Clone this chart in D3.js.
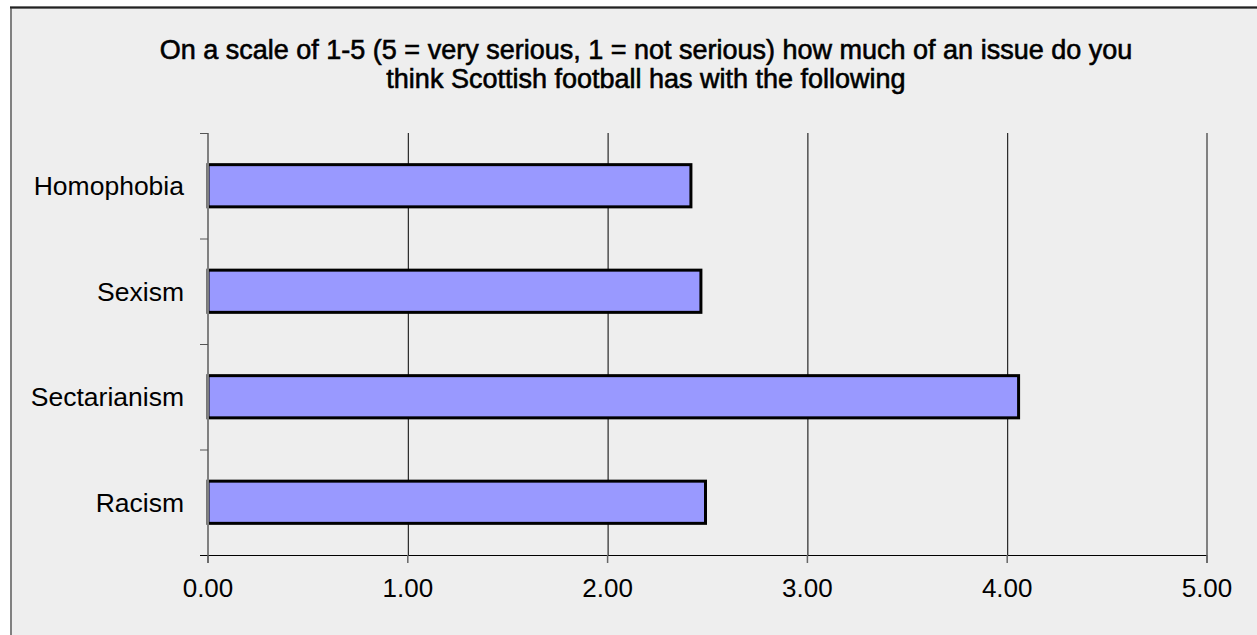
<!DOCTYPE html>
<html>
<head>
<meta charset="utf-8">
<script src="https://cdn.jsdelivr.net/npm/d3@7"></script>
<style>
  html, body { margin: 0; padding: 0; background: #ffffff; }
  svg { display: block; }
  text { font-family: "Liberation Sans", Arial, sans-serif; fill: #000; }
</style>
</head>
<body>
<svg id="chart" width="1257" height="635"></svg>
<script>
// Survey categories, top to bottom
const categories = ["Homophobia", "Sexism", "Sectarianism", "Racism"];
// Mean rating for each category (1-5 scale)
const values = [2.417, 2.467, 4.057, 2.49];
// Value-axis ticks
const tickValues = [0, 1, 2, 3, 4, 5];
const titleLines = [
  "On a scale of 1-5 (5 = very serious, 1 = not serious) how much of an issue do you",
  "think Scottish football has with the following"
];

const svg = d3.select("#chart");
const W = 1257, H = 635;

// Chart area panel
svg.append("rect")
  .attr("x", 11).attr("y", 7.5)
  .attr("width", W + 20).attr("height", H + 20)
  .attr("fill", "#eeeeee")
  .attr("stroke", "#808080").attr("stroke-width", 2);
svg.append("line")
  .attr("x1", 10).attr("x2", W).attr("y1", 7.5).attr("y2", 7.5)
  .attr("stroke", "#222").attr("stroke-width", 2);

const plot = { left: 208, right: 1207, top: 133, bottom: 555 };

const x = d3.scaleLinear().domain([0, 5]).range([plot.left, plot.right]);
const y = d3.scaleBand().domain(categories).range([plot.top, plot.bottom]).paddingInner(0.6).paddingOuter(0.3);
const yBand = d3.scaleBand().domain(categories).range([plot.top, plot.bottom]);

// Title (two centred lines, slightly heavier than regular weight)
svg.append("g").selectAll("text").data(titleLines).join("text")
  .attr("x", 646)
  .attr("y", (d, i) => 59 + i * 29)
  .attr("text-anchor", "middle")
  .style("font-size", "27px")
  .style("stroke", "#000")
  .style("stroke-width", "0.6px")
  .text(d => d);

// Vertical gridlines
svg.append("g").selectAll("line").data(tickValues.filter(v => v > 0 && v < 5)).join("line")
  .attr("x1", d => x(d) + 0.5).attr("x2", d => x(d) + 0.5)
  .attr("y1", plot.top).attr("y2", plot.bottom)
  .attr("stroke", "#000").attr("stroke-width", 1);

// Right edge of plot area
svg.append("line")
  .attr("x1", x(5)).attr("x2", x(5))
  .attr("y1", plot.top).attr("y2", plot.bottom + 8)
  .attr("stroke", "#808080").attr("stroke-width", 2);

// Bars
svg.append("g").selectAll("rect").data(categories).join("rect")
  .attr("x", x(0))
  .attr("y", d => y(d))
  .attr("width", (d, i) => x(values[i]) - x(0))
  .attr("height", y.bandwidth())
  .attr("fill", "#9999ff")
  .attr("stroke", "#000")
  .attr("stroke-width", 3);

// Category axis
const yAxis = svg.append("g").attr("transform", `translate(${plot.left},0)`);
yAxis.append("line")
  .attr("x1", 0).attr("x2", 0)
  .attr("y1", plot.top).attr("y2", plot.bottom + 8)
  .attr("stroke", "#808080").attr("stroke-width", 2);
const boundaries = categories.map(c => yBand(c)).concat([plot.bottom]);
yAxis.selectAll("line.tick").data(boundaries).join("line")
  .attr("class", "tick")
  .attr("x1", -8).attr("x2", 0)
  .attr("y1", d => d + 0.5).attr("y2", d => d + 0.5)
  .attr("stroke", "#555").attr("stroke-width", 1);
yAxis.selectAll("text").data(categories).join("text")
  .attr("x", -24)
  .attr("y", d => yBand(d) + yBand.bandwidth() / 2)
  .attr("dy", "0.35em")
  .attr("text-anchor", "end")
  .style("font-size", "26.5px")
  .text(d => d);

// Value axis
const xAxis = svg.append("g");
xAxis.append("line")
  .attr("x1", plot.left - 8).attr("x2", plot.right)
  .attr("y1", plot.bottom + 0.5).attr("y2", plot.bottom + 0.5)
  .attr("stroke", "#000").attr("stroke-width", 1);
xAxis.selectAll("line.tick").data(tickValues).join("line")
  .attr("class", "tick")
  .attr("x1", d => x(d)).attr("x2", d => x(d))
  .attr("y1", plot.bottom).attr("y2", plot.bottom + 8)
  .attr("stroke", "#666").attr("stroke-width", 1.5);
xAxis.selectAll("text").data(tickValues).join("text")
  .attr("x", d => x(d))
  .attr("y", 597)
  .attr("text-anchor", "middle")
  .style("font-size", "26px")
  .text(d => d3.format(".2f")(d));
</script>
</body>
</html>
